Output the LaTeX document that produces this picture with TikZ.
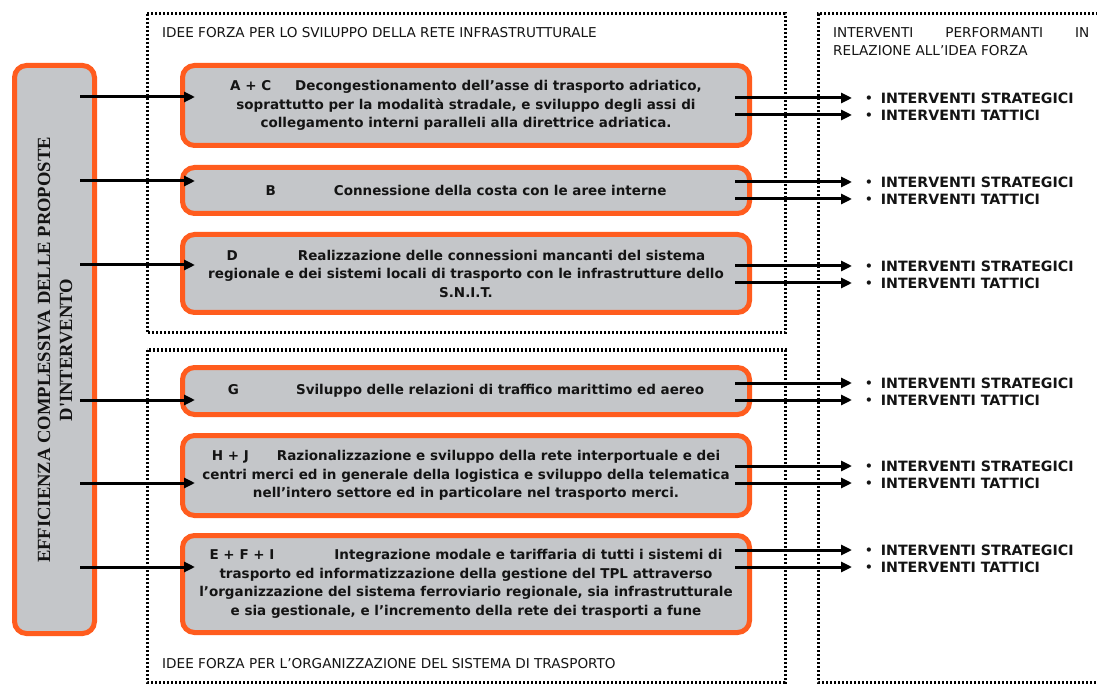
\documentclass[tikz,border=0pt]{standalone}
\usepackage{fontspec}
\setmainfont{DejaVu Sans}
\newfontfamily\serifb{Liberation Serif}
\usetikzlibrary{arrows.meta,calc}
\definecolor{orng}{RGB}{255,92,30}
\definecolor{boxgray}{RGB}{196,198,201}
\definecolor{ink}{RGB}{20,20,20}
\begin{document}
\begin{tikzpicture}[x=1pt,y=-1pt,
  idea/.style={draw=orng, line width=5pt, fill=boxgray, rounded corners=12pt,
    minimum width=567pt, inner sep=0pt, align=center, text=ink,
    font=\bfseries\fontsize{13.5}{18.5}\selectfont},
  sidebox/.style={draw=orng, line width=5pt, fill=boxgray, rounded corners=12pt,
    minimum width=80pt, minimum height=568pt, inner sep=0pt},
  frame/.style={draw=black, line width=3pt, dash pattern=on 2.4pt off 1.6pt},
  arr/.style={draw=black, line width=3pt, -{Triangle[length=11pt,width=10pt]}},
  lbl/.style={anchor=west, inner sep=0pt, text=ink, font=\bfseries\fontsize{14.2}{16}\selectfont},
  hdr/.style={anchor=west, inner sep=0pt, text=ink, font=\fontsize{13.6}{18}\selectfont}
]
\useasboundingbox (0,0) rectangle (1097,684);
\fill[white] (0,0) rectangle (1097,684);

% dotted frames
\draw[frame] (147,14) rectangle (785,333);
\draw[frame] (147,350) rectangle (785,682);
\draw[frame] (1110,14) -- (818,14) -- (818,682) -- (1110,682);

% headers
\node[hdr] (h1) at (162,33) {IDEE FORZA PER LO SVILUPPO DELLA RETE INFRASTRUTTURALE};
\node[hdr] (h2) at (162,664) {IDEE FORZA PER L'ORGANIZZAZIONE DEL SISTEMA DI TRASPORTO};
\node[hdr] (h3) at (833,33) {\makebox[256pt][l]{INTERVENTI\hfill PERFORMANTI\hfill IN}};
\node[hdr] (h4) at (833,51) {RELAZIONE ALL'IDEA FORZA};

% left box
\node[sidebox] (L) at (54.5,349.5) {};
\node[rotate=90, align=center, text=ink, inner sep=0pt,
  font=\serifb\bfseries\fontsize{18.6}{22}\selectfont] (Lt) at (55,350)
  {EFFICIENZA COMPLESSIVA DELLE PROPOSTE\\D'INTERVENTO};

% idea boxes
\node[idea, minimum height=80pt] (AC) at (466,105.5)
  {A + C\hspace{24pt}Decongestionamento dell'asse di trasporto adriatico,\\
   soprattutto per la modalità stradale, e sviluppo degli assi di\\
   collegamento interni paralleli alla direttrice adriatica.};
\node[idea, minimum height=46pt] (B) at (466,190.5)
  {B\hspace{58pt}Connessione della costa con le aree interne};
\node[idea, minimum height=78pt] (D) at (466,273.5)
  {D\hspace{60pt}Realizzazione delle connessioni mancanti del sistema\\
   regionale e dei sistemi locali di trasporto con le infrastrutture dello\\
   S.N.I.T.};
\node[idea, minimum height=47pt] (G) at (466,391)
  {G\hspace{57pt}Sviluppo delle relazioni di traffico marittimo ed aereo};
\node[idea, minimum height=80pt] (HJ) at (466,475.5)
  {H + J\hspace{28pt}Razionalizzazione e sviluppo della rete interportuale e dei\\
   centri merci ed in generale della logistica e sviluppo della telematica\\
   nell'intero settore ed in particolare nel trasporto merci.};
\node[idea, minimum height=97pt] (EFI) at (466,584)
  {E + F + I\hspace{60pt}Integrazione modale e tariffaria di tutti i sistemi di\\
   trasporto ed informatizzazione della gestione del TPL attraverso\\
   l'organizzazione del sistema ferroviario regionale, sia infrastrutturale\\
   e sia gestionale, e l'incremento della rete dei trasporti a fune};

% entry arrows
\foreach \n/\y in {AC/97, B/181, D/265, G/400, HJ/483, EFI/567}{
  \coordinate (in\n) at (0,\y);
  \draw[arr] ($(L.east |- in\n)+(-17,0)$) -- ($(\n.west |- in\n)+(15,0)$);
}

% output arrows and labels
\foreach \n/\ya/\yb in {AC/98/115, B/182/199, D/266/283, G/383/400, HJ/466/483, EFI/550/567}{
  \coordinate (s\n) at (852,\ya);
  \coordinate (t\n) at (852,\yb);
  \draw[arr] ($(\n.east |- s\n)+(-17,0)$) -- (s\n);
  \draw[arr] ($(\n.east |- t\n)+(-17,0)$) -- (t\n);
  \node[lbl] (ls\n) at ($(s\n)+(13,0)$) {{\fontsize{12}{12}\selectfont\raisebox{0.5pt}{•}}\hspace{8pt}INTERVENTI STRATEGICI};
  \node[lbl] (lt\n) at ($(t\n)+(13,0)$) {{\fontsize{12}{12}\selectfont\raisebox{0.5pt}{•}}\hspace{8pt}INTERVENTI TATTICI};
}
\end{tikzpicture}
\end{document}
